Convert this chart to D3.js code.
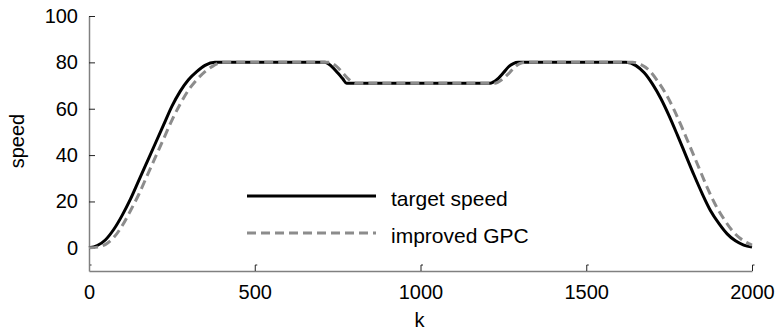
<!DOCTYPE html>
<html>
<head>
<meta charset="utf-8">
<script src="https://cdn.jsdelivr.net/npm/d3@7"></script>
<style>
  body { margin: 0; background: #fff; }
  svg text { font-family: "Liberation Sans", Arial, sans-serif; }
</style>
</head>
<body>
<div id="chart"></div>
<script>
// sample positions (k) and values
const targetK = [0, 25, 50, 75, 100, 125, 150, 175, 200, 225, 250, 275, 300, 325, 350, 380, 712, 730, 750, 765, 777,
  1210, 1230, 1250, 1265, 1280, 1295, 1620, 1650, 1675, 1700, 1725, 1750, 1775, 1800, 1825, 1850, 1875, 1900, 1925, 1950, 1975, 2000];
const targetSpeed = [0, 1, 3.5, 8, 14, 21, 29, 37, 45, 53, 61, 67.5, 72.5, 76, 78.7, 80, 80, 78.5, 75.5, 73, 71,
  71, 72.5, 75.5, 78, 79.5, 80, 80, 78.6, 75.5, 70.6, 64.4, 56.9, 48.6, 40, 31.4, 23.3, 16, 10.5, 6, 3, 1.2, 0.3];

const gpcK = [0, 25, 50, 75, 100, 125, 150, 175, 200, 225, 250, 275, 300, 325, 350, 375, 400, 725, 745, 765, 785, 805,
  1225, 1245, 1265, 1285, 1300, 1320, 1640, 1665, 1690, 1715, 1740, 1765, 1790, 1815, 1840, 1865, 1890, 1915, 1940, 1965, 1990, 2000];
const gpcSpeed = [0, 0.3, 1.5, 4.5, 9.5, 16, 23, 31, 39, 47, 55, 62, 68, 72.5, 76, 78.5, 80, 80, 78.5, 75.5, 72.5, 71,
  71, 72.5, 75, 78, 79.5, 80, 80, 79, 76.5, 72, 66.5, 59.5, 51.5, 43, 34.5, 26, 18.5, 12.5, 7.5, 4, 1.8, 1.2];

const xTicks = [0, 500, 1000, 1500, 2000];
const yTicks = [0, 20, 40, 60, 80, 100];
const seriesNames = ["target speed", "improved GPC"];

const width = 775, height = 334;
const margin = { top: 16, right: 23, bottom: 63, left: 89 };
const plotW = width - margin.left - margin.right;
const plotH = height - margin.top - margin.bottom;

const svg = d3.select("#chart").append("svg")
  .attr("width", width)
  .attr("height", height);

const g = svg.append("g")
  .attr("transform", `translate(${margin.left},${margin.top})`);

const x = d3.scaleLinear().domain([0, 2000]).range([0, plotW]);
const y = d3.scaleLinear().domain([-10, 100]).range([plotH, 0]);

// X axis (ticks point inward)
const xAxis = g.append("g")
  .attr("transform", `translate(0,${plotH})`)
  .call(d3.axisBottom(x).tickValues(xTicks).tickFormat(d3.format("d"))
    .tickSizeInner(-6).tickSizeOuter(0).tickPadding(14));
xAxis.select(".domain").attr("stroke", "#808080").attr("stroke-width", 1.5);
xAxis.selectAll(".tick line").remove();
xAxis.selectAll(".tick").append("path")
  .attr("d", "M0,0V-6H2")
  .attr("fill", "none")
  .attr("stroke", "#222")
  .attr("stroke-width", 1);
xAxis.selectAll("text").attr("font-size", 20).attr("fill", "#000");

// Y axis
const yAxis = g.append("g")
  .call(d3.axisLeft(y).tickValues(yTicks).tickFormat(d3.format("d"))
    .tickSizeInner(-6).tickSizeOuter(0).tickPadding(11));
yAxis.select(".domain").attr("stroke", "#808080").attr("stroke-width", 1.5);
yAxis.selectAll(".tick line").attr("stroke", "#222");
yAxis.selectAll("text").attr("font-size", 20).attr("fill", "#000");

// axis labels
g.append("text")
  .attr("x", plotW / 2 - 1)
  .attr("y", plotH + 56)
  .attr("text-anchor", "middle")
  .attr("font-size", 20)
  .text("k");

svg.append("text")
  .attr("transform", "translate(23.5,141) rotate(-90)")
  .attr("text-anchor", "middle")
  .attr("font-size", 20)
  .text("speed");

const line = d3.line()
  .x(d => x(d[0]))
  .y(d => y(d[1]))
  .curve(d3.curveMonotoneX);

// target speed (solid black)
g.append("path")
  .datum(d3.zip(targetK, targetSpeed))
  .attr("fill", "none")
  .attr("stroke", "#000")
  .attr("stroke-width", 3)
  .attr("d", line);

// improved GPC (gray dashed)
g.append("path")
  .datum(d3.zip(gpcK, gpcSpeed))
  .attr("fill", "none")
  .attr("stroke", "#8c8c8c")
  .attr("stroke-width", 3)
  .attr("stroke-dasharray", "9,5")
  .attr("d", line);

// Legend
const legend = svg.append("g");
const legendStyles = [
  { color: "#000", dash: null, y: 196 },
  { color: "#8c8c8c", dash: "9,5", y: 233 }
];
seriesNames.forEach((name, i) => {
  const s = legendStyles[i];
  legend.append("line")
    .attr("x1", 247).attr("x2", 376)
    .attr("y1", s.y).attr("y2", s.y)
    .attr("stroke", s.color)
    .attr("stroke-width", 3)
    .attr("stroke-dasharray", s.dash);
  legend.append("text")
    .attr("x", 391)
    .attr("y", s.y + 10)
    .attr("font-size", 21)
    .text(name);
});
</script>
</body>
</html>
